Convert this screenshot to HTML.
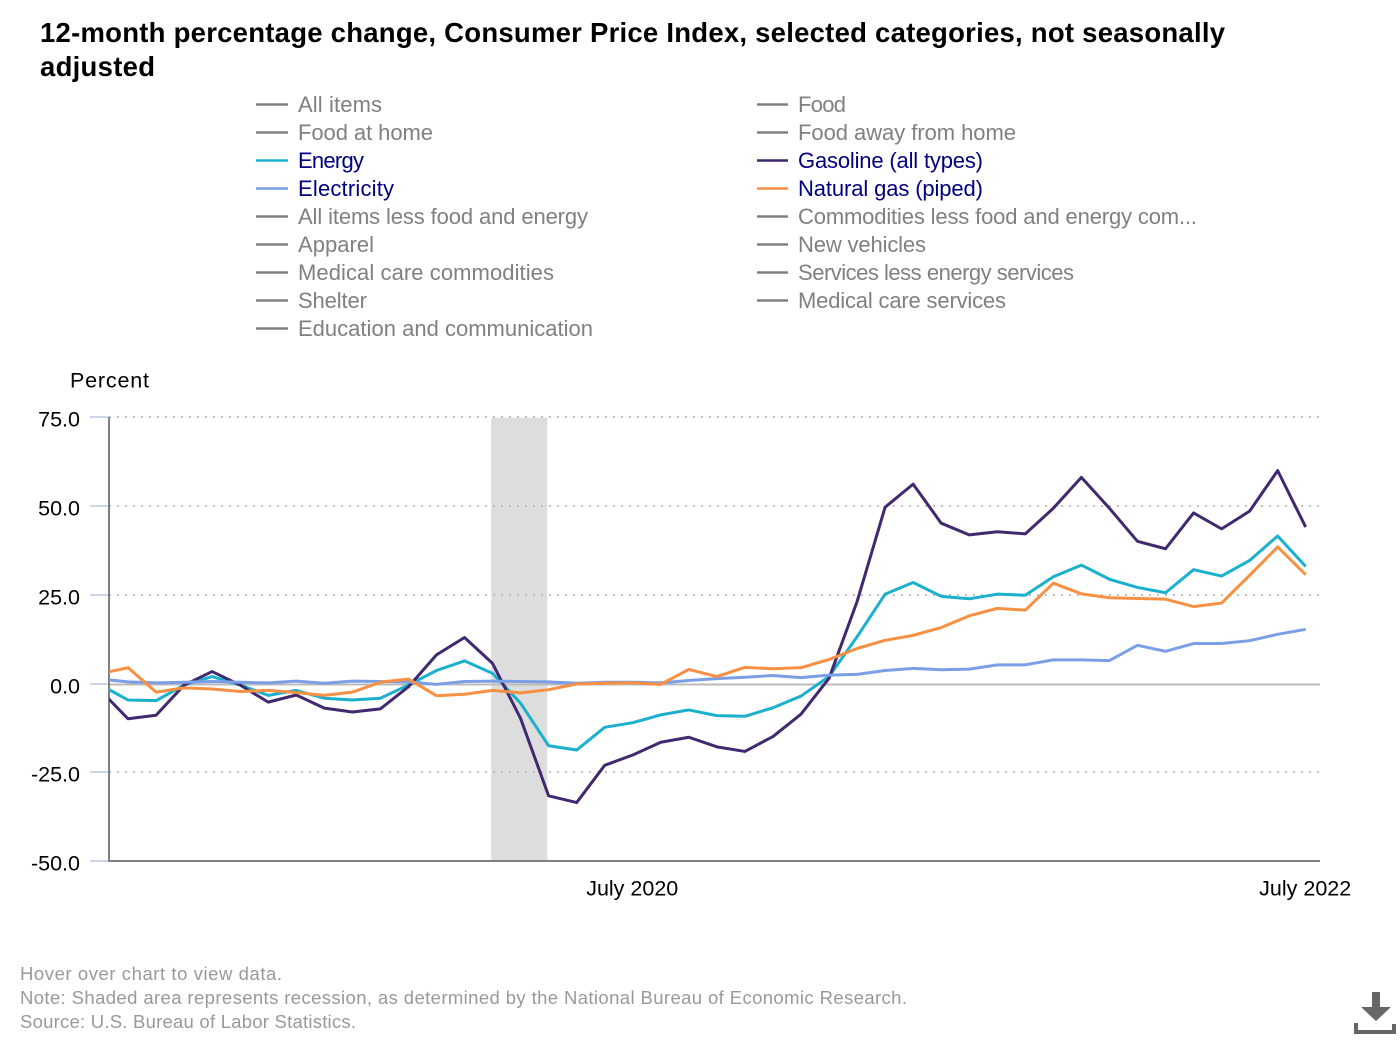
<!DOCTYPE html>
<html lang="en">
<head>
<meta charset="utf-8">
<title>12-month percentage change, Consumer Price Index</title>
<style>
html,body{margin:0;padding:0;background:#fff;width:1400px;height:1040px;overflow:hidden}
svg{display:block}
text{font-family:"Liberation Sans",sans-serif}
.title{font-size:27.5px;font-weight:700;fill:#000}
.leg{font-size:22px;fill:#808080}
.leg.on{fill:#000080}
.ax{font-size:21.5px;fill:#000}
.foot{font-size:18.5px;fill:#999}
</style>
</head>
<body>
<svg id="chart" width="1400" height="1040" viewBox="0 0 1400 1040" xmlns="http://www.w3.org/2000/svg">
  <defs><clipPath id="plot-clip"><rect x="109" y="400" width="1215" height="470"/></clipPath></defs>
  <g>
    <text class="title" x="40" y="42" textLength="1185">12-month percentage change, Consumer Price Index, selected categories, not seasonally</text>
    <text class="title" x="40" y="76" textLength="115">adjusted</text>
  </g>
  <g>
    <g><line x1="256" x2="288" y1="104.5" y2="104.5" stroke="#808080" stroke-width="2.6"/><text class="leg" x="298" y="112" textLength="84">All items</text></g>
    <g><line x1="757" x2="788" y1="104.5" y2="104.5" stroke="#808080" stroke-width="2.6"/><text class="leg" x="798" y="112" textLength="48">Food</text></g>
    <g><line x1="256" x2="288" y1="132.5" y2="132.5" stroke="#808080" stroke-width="2.6"/><text class="leg" x="298" y="140" textLength="135">Food at home</text></g>
    <g><line x1="757" x2="788" y1="132.5" y2="132.5" stroke="#808080" stroke-width="2.6"/><text class="leg" x="798" y="140" textLength="218">Food away from home</text></g>
    <g><line x1="256" x2="288" y1="160.5" y2="160.5" stroke="#1cb0cf" stroke-width="2.6"/><text class="leg on" x="298" y="168" textLength="66">Energy</text></g>
    <g><line x1="757" x2="788" y1="160.5" y2="160.5" stroke="#41296f" stroke-width="2.6"/><text class="leg on" x="798" y="168" textLength="185">Gasoline (all types)</text></g>
    <g><line x1="256" x2="288" y1="188.5" y2="188.5" stroke="#7a9fe6" stroke-width="2.6"/><text class="leg on" x="298" y="196" textLength="96">Electricity</text></g>
    <g><line x1="757" x2="788" y1="188.5" y2="188.5" stroke="#f79043" stroke-width="2.6"/><text class="leg on" x="798" y="196" textLength="185">Natural gas (piped)</text></g>
    <g><line x1="256" x2="288" y1="216.5" y2="216.5" stroke="#808080" stroke-width="2.6"/><text class="leg" x="298" y="224" textLength="290">All items less food and energy</text></g>
    <g><line x1="757" x2="788" y1="216.5" y2="216.5" stroke="#808080" stroke-width="2.6"/><text class="leg" x="798" y="224" textLength="399">Commodities less food and energy com...</text></g>
    <g><line x1="256" x2="288" y1="244.5" y2="244.5" stroke="#808080" stroke-width="2.6"/><text class="leg" x="298" y="252" textLength="76">Apparel</text></g>
    <g><line x1="757" x2="788" y1="244.5" y2="244.5" stroke="#808080" stroke-width="2.6"/><text class="leg" x="798" y="252" textLength="128">New vehicles</text></g>
    <g><line x1="256" x2="288" y1="272.5" y2="272.5" stroke="#808080" stroke-width="2.6"/><text class="leg" x="298" y="280" textLength="256">Medical care commodities</text></g>
    <g><line x1="757" x2="788" y1="272.5" y2="272.5" stroke="#808080" stroke-width="2.6"/><text class="leg" x="798" y="280" textLength="276">Services less energy services</text></g>
    <g><line x1="256" x2="288" y1="300.5" y2="300.5" stroke="#808080" stroke-width="2.6"/><text class="leg" x="298" y="308" textLength="69">Shelter</text></g>
    <g><line x1="757" x2="788" y1="300.5" y2="300.5" stroke="#808080" stroke-width="2.6"/><text class="leg" x="798" y="308" textLength="208">Medical care services</text></g>
    <g><line x1="256" x2="288" y1="328.5" y2="328.5" stroke="#808080" stroke-width="2.6"/><text class="leg" x="298" y="336" textLength="295">Education and communication</text></g>
  </g>
  <text class="ax" x="70" y="387.5" textLength="79">Percent</text>
  <g id="recession-layer"></g>
  <g id="grid-layer"></g>
  <g id="axis-layer"></g>
  <g id="series-layer" clip-path="url(#plot-clip)"></g>
  <g id="label-layer"></g>
  <g>
    <text class="foot" x="20" y="980" textLength="262">Hover over chart to view data.</text>
    <text class="foot" x="20" y="1004" textLength="887">Note: Shaded area represents recession, as determined by the National Bureau of Economic Research.</text>
    <text class="foot" x="20" y="1028" textLength="336">Source: U.S. Bureau of Labor Statistics.</text>
  </g>
  <g fill="#666">
    <polygon points="1372,992 1380,992 1380,1007 1391,1007 1376,1021 1361,1007 1372,1007"/>
    <polygon points="1354,1023 1358,1023 1358,1030 1392,1030 1392,1024 1396,1024 1396,1034 1354,1034"/>
  </g>
</svg>
<script>
const months = ['Dec 2018',
  'Jan 2019','Feb 2019','Mar 2019','Apr 2019','May 2019','Jun 2019','Jul 2019','Aug 2019','Sep 2019','Oct 2019','Nov 2019','Dec 2019',
  'Jan 2020','Feb 2020','Mar 2020','Apr 2020','May 2020','Jun 2020','Jul 2020','Aug 2020','Sep 2020','Oct 2020','Nov 2020','Dec 2020',
  'Jan 2021','Feb 2021','Mar 2021','Apr 2021','May 2021','Jun 2021','Jul 2021','Aug 2021','Sep 2021','Oct 2021','Nov 2021','Dec 2021',
  'Jan 2022','Feb 2022','Mar 2022','Apr 2022','May 2022','Jun 2022','Jul 2022'];
const energy = [-0.2,
  -4.5,-4.7,-0.3,2.1,-0.3,-3.2,-1.8,-4.0,-4.5,-4.0,-0.3,3.8,
  6.5,3.0,-5.4,-17.4,-18.6,-12.2,-10.9,-8.7,-7.3,-8.9,-9.1,-6.7,
  -3.4,2.1,13.3,25.3,28.6,24.7,24.0,25.3,25.0,30.2,33.5,29.5,
  27.2,25.7,32.2,30.4,34.8,41.7,33.1];
const gasoline = [-1.7,
  -9.8,-8.8,-0.3,3.5,-0.3,-5.1,-3.1,-6.8,-7.9,-7.0,-0.8,8.2,
  13.1,5.8,-9.7,-31.5,-33.4,-22.9,-20.0,-16.4,-15.0,-17.7,-19.0,-14.8,
  -8.5,1.6,23.2,49.8,56.3,45.3,42.0,42.9,42.3,49.5,58.2,49.5,
  40.2,38.1,48.2,43.7,48.7,60.1,44.2];
const electricity = [1.4,
  0.6,0.3,0.5,0.7,0.5,0.3,0.8,0.2,0.8,0.7,0.6,-0.1,
  0.7,0.8,0.7,0.6,0.2,0.5,0.5,0.3,1.0,1.5,1.9,2.4,
  1.8,2.5,2.7,3.8,4.4,4.0,4.2,5.4,5.4,6.8,6.8,6.6,
  10.9,9.2,11.4,11.4,12.2,14.0,15.4];
const naturalGas = [2.9,
  4.6,-2.3,-1.1,-1.4,-2.1,-1.8,-2.4,-3.2,-2.3,0.5,1.4,-3.3,
  -2.9,-1.8,-2.5,-1.6,0.0,0.2,0.3,-0.1,4.1,2.1,4.7,4.3,
  4.6,6.9,10.0,12.3,13.7,15.9,19.2,21.3,20.8,28.4,25.4,24.3,
  24.1,23.9,21.8,22.8,30.6,38.6,30.8];
const yTickValues = [75,50,25,0,-25,-50];
const yTickLabels = ['75.0','50.0','25.0','0.0','-25.0','-50.0'];
const xTickMonths = ['Jul 2020','Jul 2022'];
const xTickLabels = ['July 2020','July 2022'];
const recessionMonths = ['Feb 2020','Apr 2020'];

const NS = 'http://www.w3.org/2000/svg';
const seriesEnergy = {name:'series-energy', values:energy, color:'#1cb0cf'};
const seriesGasoline = {name:'series-gasoline', values:gasoline, color:'#41296f'};
const seriesElectricity = {name:'series-electricity', values:electricity, color:'#7a9fe6'};
const seriesNaturalGas = {name:'series-natural-gas', values:naturalGas, color:'#f79043'};

function xScale(i){ return 1305.7 - (months.length - 1 - i) * 28.04; }
function yScale(v){ return 684 - 3.55 * v; }
function make(tag, attrs, parent){
  const el = document.createElementNS(NS, tag);
  for (const k in attrs) el.setAttribute(k, attrs[k]);
  parent.appendChild(el);
  return el;
}

const recessionLayer = document.getElementById('recession-layer');
const rx0 = xScale(months.indexOf(recessionMonths[0])) - 1.3;
const rx1 = xScale(months.indexOf(recessionMonths[1])) - 1.3;
const recessionRect = make('rect', {x:rx0, y:yScale(75), width:rx1 - rx0, height:yScale(-50) - yScale(75), fill:'#dddddd'}, recessionLayer);



const gridLayer = document.getElementById('grid-layer');
const axisLayer = document.getElementById('axis-layer');
const labelLayer = document.getElementById('label-layer');
yTickValues.forEach(function(v, idx){
  const y = Math.round(yScale(v) - 0.3);
  if (v !== -50) {
    const g = make('line', {x1:109, x2:1320, y1:y + (v === 0 ? 0.5 : 0), y2:y + (v === 0 ? 0.5 : 0), stroke: v === 0 ? '#bbbbbb' : '#bfbfbf', 'stroke-width':2, 'stroke-dasharray': v === 0 ? 'none' : '2 6'}, gridLayer);
    
    
  }
  const t = make('line', {x1:90, x2:110, y1:y, y2:y, stroke:'#ccd6eb', 'stroke-width':2}, axisLayer);
  
  
  const lab = make('text', {x:80, y:y + 9.5, 'text-anchor':'end', class:'ax'}, labelLayer);
  lab.textContent = yTickLabels[idx];
  
  
});
const yAxis = make('line', {x1:109, x2:109, y1:Math.round(yScale(75) - 0.3), y2:yScale(-50), stroke:'#808080', 'stroke-width':2}, axisLayer);


const xAxis = make('line', {x1:108, x2:1320, y1:861, y2:861, stroke:'#808080', 'stroke-width':2}, axisLayer);



xTickMonths.forEach(function(m, idx){
  const lab = make('text', {x:xScale(months.indexOf(m)) - 0.5, y:895.5, 'text-anchor':'middle', class:'ax'}, labelLayer);
  lab.textContent = xTickLabels[idx];
  
  
});

const seriesLayer = document.getElementById('series-layer');
[seriesEnergy, seriesGasoline, seriesElectricity, seriesNaturalGas].forEach(function(s){
  const pts = s.values.map(function(v, i){ return xScale(i).toFixed(2) + ',' + yScale(v).toFixed(2); }).join(' ');
  const line = make('polyline', {points:pts, fill:'none', stroke:s.color, 'stroke-width':3, 'stroke-linejoin':'round'}, seriesLayer);
  
  
});
</script>
</body>
</html>
